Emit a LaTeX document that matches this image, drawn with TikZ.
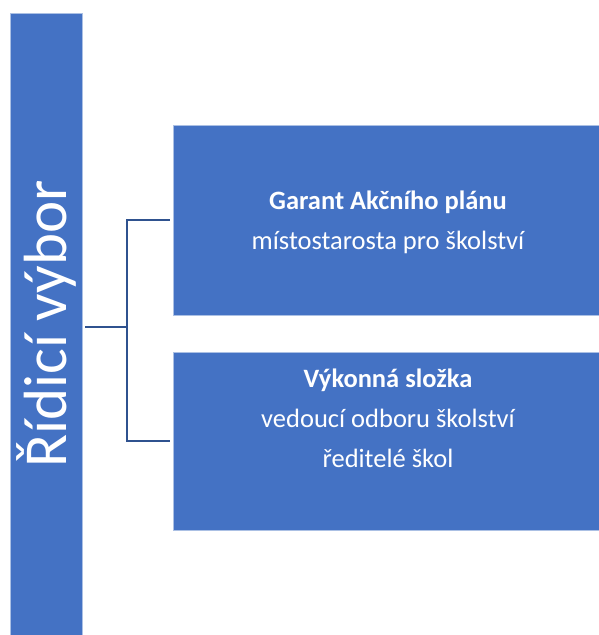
\documentclass[tikz,border=0pt]{standalone}
\usepackage{fontspec}
\setmainfont{Carlito}
\usetikzlibrary{positioning}
\definecolor{boxblue}{HTML}{4472C4}
\definecolor{linkblue}{HTML}{2F528F}
\tikzset{
  panel/.style={draw=white!55!boxblue,line width=0.6pt,fill=boxblue,inner sep=0pt},
  paneltext/.style={text=white,align=center,inner sep=0pt,font=\fontsize{26.5}{40}\selectfont},
  link/.style={draw=linkblue,line width=1.6pt,shorten <=3pt,shorten >=3pt}
}
\begin{document}
\begin{tikzpicture}[x=1pt,y=-1pt]
  \useasboundingbox (0,0) rectangle (599,635);
  % left bar
  \node[panel,minimum width=72pt,minimum height=622pt](rizeni)at(46,324){};
  \node[rotate=90,text=white,inner sep=0pt,font=\fontsize{61}{64}\selectfont](rizenitext)at(rizeni.center){Řídicí výbor};
  % boxes on the right
  \node[panel,minimum width=426pt,minimum height=190pt](garant)at(386,220){};
  \node[paneltext](garanttext)at(388,222){\textbf{Garant Akčního plánu}\\místostarosta pro školství};
  \node[panel,minimum width=426pt,minimum height=178pt](slozka)at(386,441){};
  \node[paneltext,anchor=north](slozkatext)at(388,369){\textbf{Výkonná složka}\\vedoucí odboru školství\\ředitelé škol};
  % connectors
  \coordinate(branch)at(127,327);
  \draw[link,shorten >=0pt] (rizeni.east|-branch) -- (branch);
  \draw[link,shorten <=0pt] (branch) |- (garant.west);
  \draw[link,shorten <=0pt] (branch) |- (slozka.west);
\end{tikzpicture}
\end{document}
